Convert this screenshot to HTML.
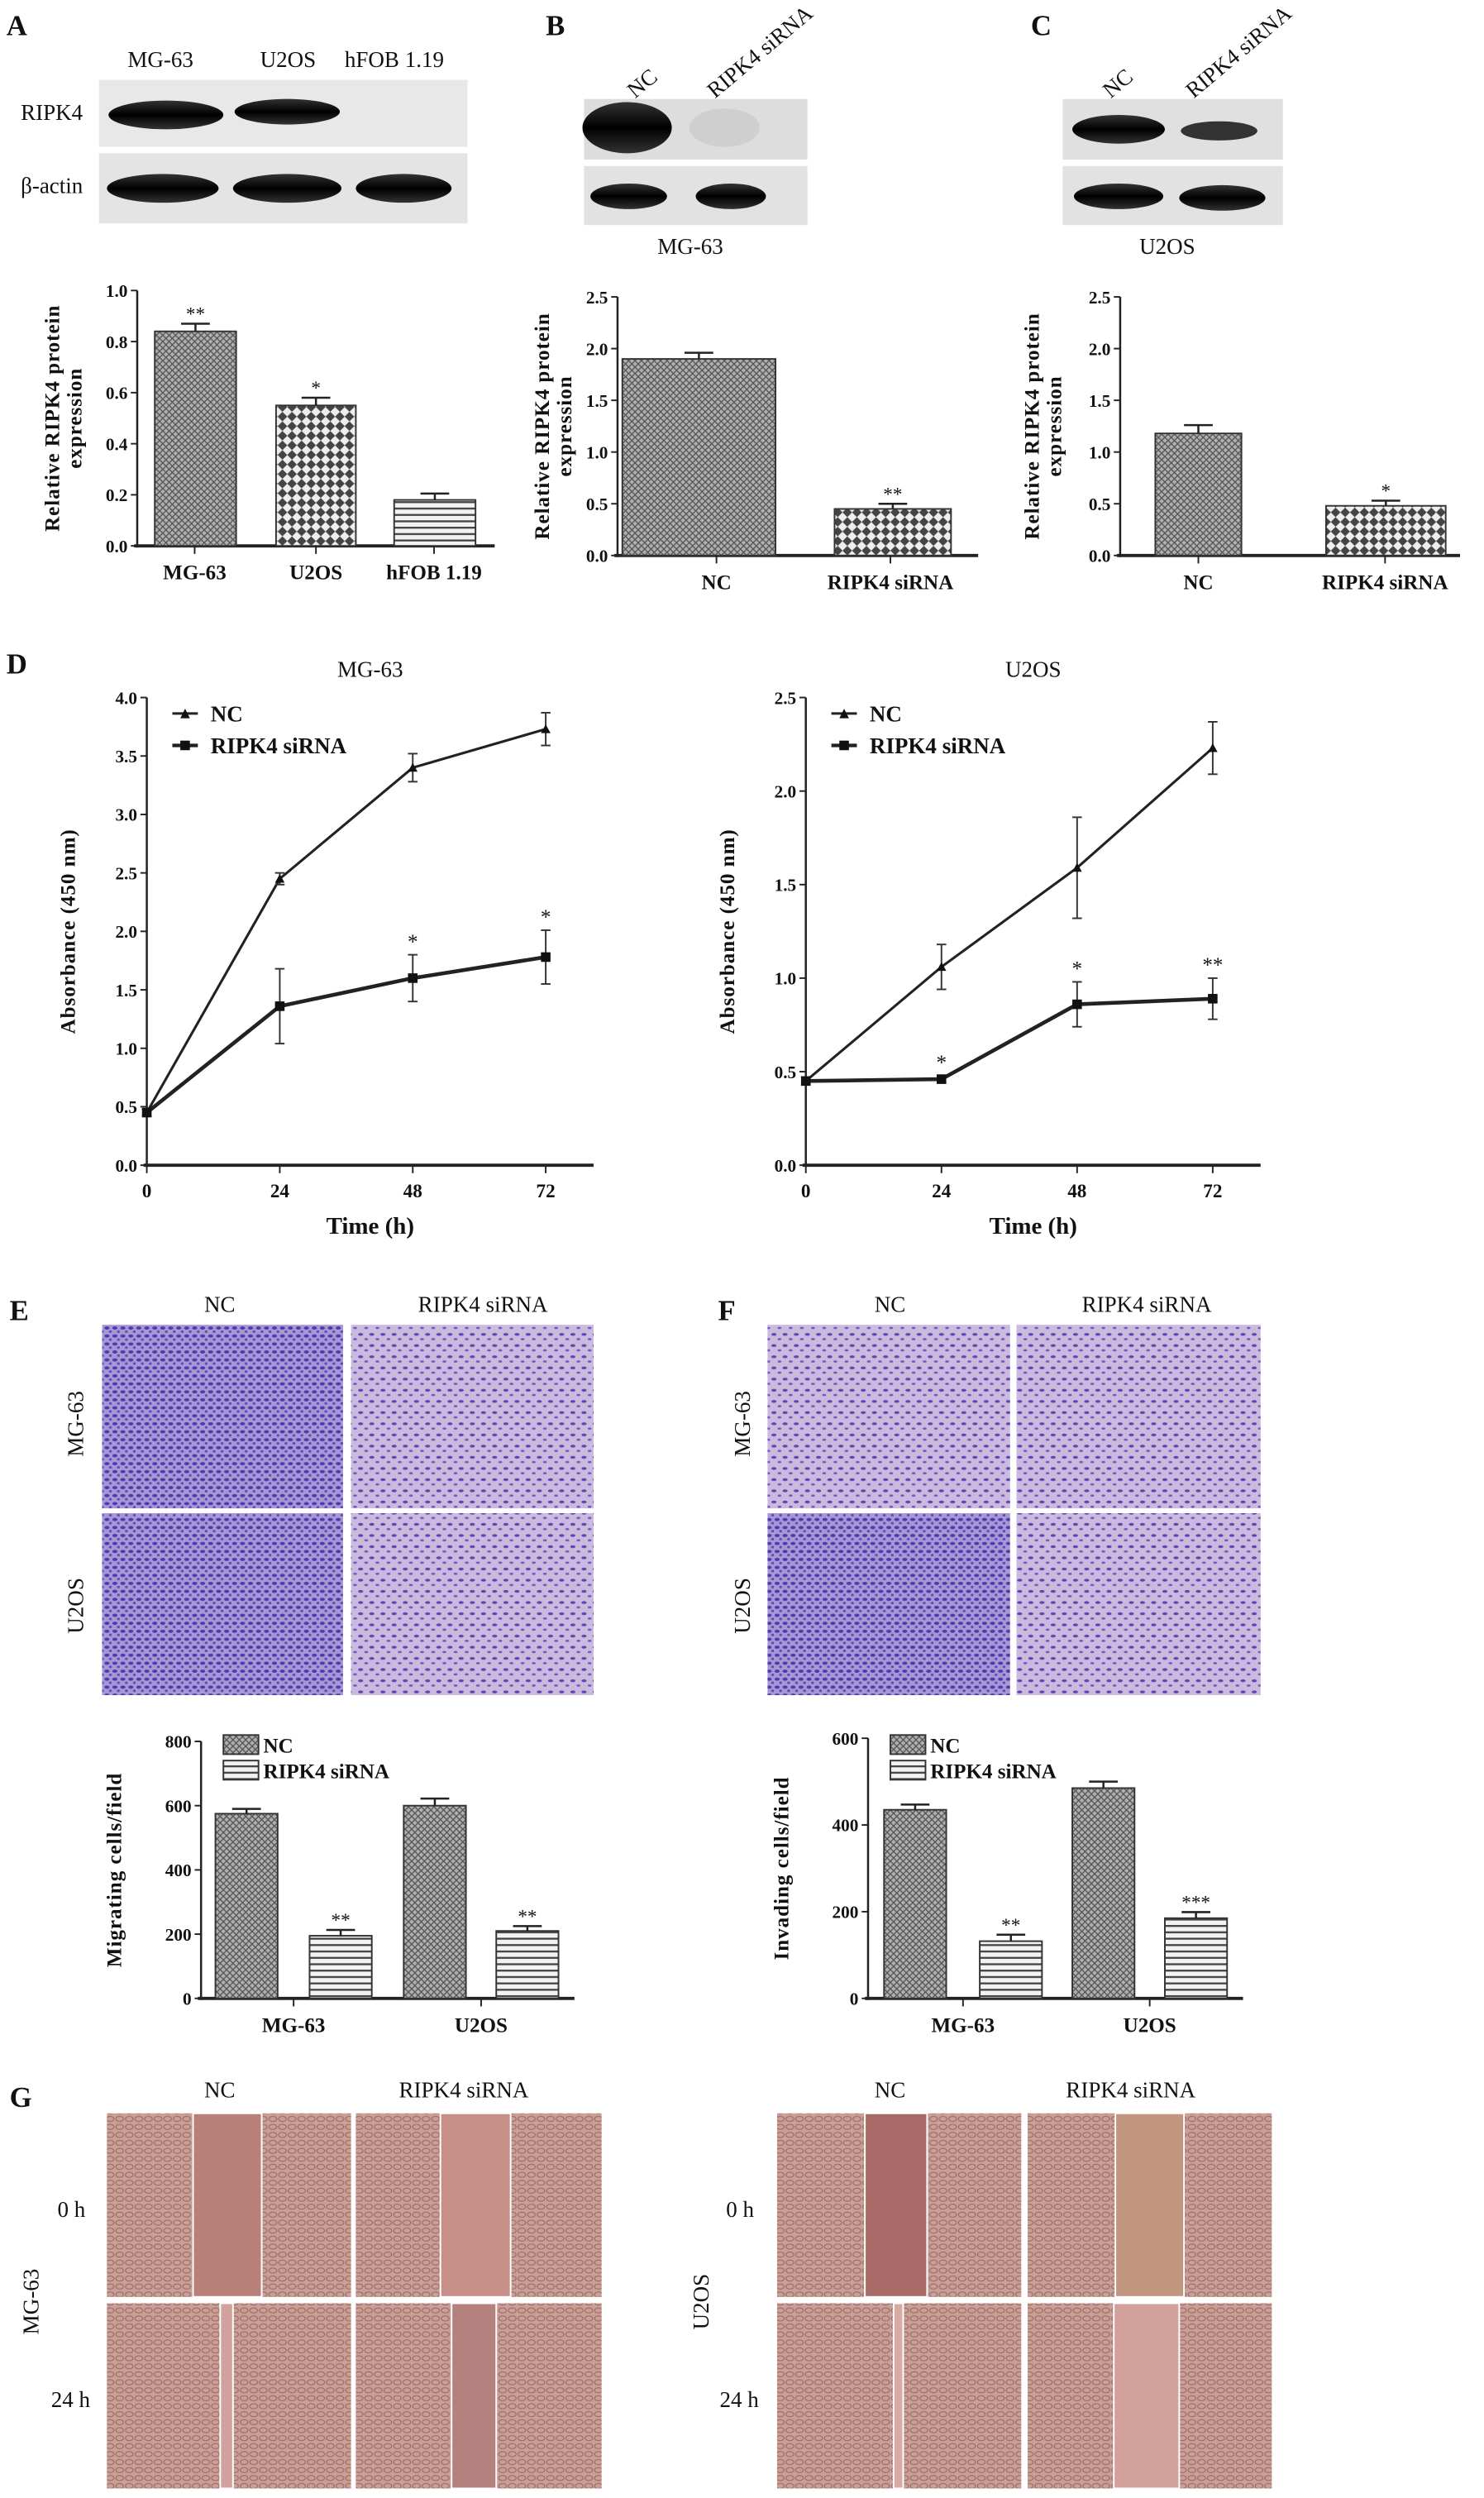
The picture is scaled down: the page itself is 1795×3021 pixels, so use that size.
<!DOCTYPE html>
<html><head><meta charset="utf-8"><style>
html,body{margin:0;padding:0;background:#fff}
svg{display:block}
text{font-family:"Liberation Serif",serif;fill:#111}
.b{font-weight:bold}
</style></head><body>
<svg id="fig" width="1795" height="3021" viewBox="0 0 930 1565" preserveAspectRatio="none" xmlns="http://www.w3.org/2000/svg">
<defs>
<pattern id="pCross" width="4" height="4" patternUnits="userSpaceOnUse"><rect width="4" height="4" fill="#b0b0b0"/><path d="M0 4L4 0M0 0L4 4" stroke="#555" stroke-width="0.7"/></pattern>
<pattern id="pCheck" width="6" height="6" patternUnits="userSpaceOnUse"><rect width="6" height="6" fill="#eee"/><path d="M0 3L3 0L6 3L3 6Z" fill="#444"/></pattern>
<pattern id="pHoriz" width="4" height="4" patternUnits="userSpaceOnUse"><rect width="4" height="4" fill="#f2f2f2"/><rect y="2" width="4" height="1.2" fill="#444"/></pattern>
<linearGradient id="gBand" x1="0" y1="0" x2="0" y2="1"><stop offset="0" stop-color="#333"/><stop offset="0.5" stop-color="#000"/><stop offset="1" stop-color="#333"/></linearGradient>
<pattern id="pCells" width="7" height="7" patternUnits="userSpaceOnUse"><rect width="7" height="7" fill="#cbbadd"/><ellipse cx="2" cy="3" rx="1.6" ry="0.9" fill="#5a46b8"/><ellipse cx="5.5" cy="6" rx="1.2" ry="0.7" fill="#6a58c4"/></pattern>
<pattern id="pCellsD" width="5" height="5" patternUnits="userSpaceOnUse"><rect width="5" height="5" fill="#a598d4"/><ellipse cx="2" cy="2" rx="1.6" ry="1" fill="#4e3aae"/><ellipse cx="4.3" cy="4.3" rx="1" ry="0.8" fill="#5c48ba"/></pattern>
<pattern id="pSheet" width="6" height="5" patternUnits="userSpaceOnUse"><rect width="6" height="5" fill="#c99f96"/><ellipse cx="3" cy="2.5" rx="2.4" ry="1.6" fill="none" stroke="#9a6c68" stroke-width="0.6"/></pattern>
</defs>

<text x="4" y="22" font-size="18" class="b">A</text>
<text x="342" y="22" font-size="18" class="b">B</text>
<text x="646" y="22" font-size="18" class="b">C</text>
<text x="4" y="422" font-size="18" class="b">D</text>
<text x="6" y="827" font-size="18" class="b">E</text>
<text x="450" y="827" font-size="18" class="b">F</text>
<text x="6" y="1320" font-size="18" class="b">G</text>

<g>
<text x="80" y="42" font-size="14">MG-63</text><text x="163" y="42" font-size="14">U2OS</text><text x="216" y="42" font-size="14">hFOB 1.19</text>
<text x="13" y="75" font-size="14">RIPK4</text><text x="13" y="121" font-size="14">β-actin</text>
<rect x="62" y="50" width="231" height="42" fill="#e8e8e8"/><rect x="62" y="96" width="231" height="44" fill="#e4e4e4"/>
<ellipse cx="104" cy="72" rx="36" ry="9" fill="url(#gBand)"/><ellipse cx="180" cy="70" rx="33" ry="8" fill="url(#gBand)"/>
<ellipse cx="102" cy="118" rx="35" ry="9" fill="url(#gBand)"/><ellipse cx="180" cy="118" rx="34" ry="9" fill="url(#gBand)"/><ellipse cx="253" cy="118" rx="30" ry="9" fill="url(#gBand)"/>
</g>
<g>
<text transform="translate(398,62) rotate(-40)" font-size="14">NC</text><text transform="translate(448,62) rotate(-40)" font-size="14">RIPK4 siRNA</text>
<rect x="366" y="62" width="140" height="38" fill="#ddd"/><rect x="366" y="104" width="140" height="37" fill="#e2e2e2"/>
<ellipse cx="393" cy="80" rx="28" ry="16" fill="url(#gBand)"/><ellipse cx="454" cy="80" rx="22" ry="12" fill="#cfcfcf"/>
<ellipse cx="394" cy="123" rx="24" ry="8" fill="url(#gBand)"/><ellipse cx="458" cy="123" rx="22" ry="8" fill="url(#gBand)"/>
<text x="412" y="159" font-size="14">MG-63</text>
</g>
<g>
<text transform="translate(696,62) rotate(-40)" font-size="14">NC</text><text transform="translate(748,62) rotate(-40)" font-size="14">RIPK4 siRNA</text>
<rect x="666" y="62" width="138" height="38" fill="#e0e0e0"/><rect x="666" y="104" width="138" height="37" fill="#e2e2e2"/>
<ellipse cx="701" cy="81" rx="29" ry="9" fill="url(#gBand)"/><ellipse cx="764" cy="82" rx="24" ry="6" fill="#333"/>
<ellipse cx="701" cy="123" rx="28" ry="8" fill="url(#gBand)"/><ellipse cx="766" cy="124" rx="27" ry="8" fill="url(#gBand)"/>
<text x="714" y="159" font-size="14">U2OS</text>
</g>

<g id="charts"></g>

<g>
<text x="128" y="822" font-size="14">NC</text><text x="262" y="822" font-size="14">RIPK4 siRNA</text>
<text x="548" y="822" font-size="14">NC</text><text x="678" y="822" font-size="14">RIPK4 siRNA</text>
<text transform="translate(52,892) rotate(-90)" font-size="14" text-anchor="middle">MG-63</text>
<text transform="translate(52,1006) rotate(-90)" font-size="14" text-anchor="middle">U2OS</text>
<text transform="translate(470,892) rotate(-90)" font-size="14" text-anchor="middle">MG-63</text>
<text transform="translate(470,1006) rotate(-90)" font-size="14" text-anchor="middle">U2OS</text>
<rect x="64" y="830" width="151" height="115" fill="url(#pCellsD)"/>
<rect x="220" y="830" width="152" height="115" fill="url(#pCells)"/>
<rect x="64" y="948" width="151" height="114" fill="url(#pCellsD)"/>
<rect x="220" y="948" width="152" height="114" fill="url(#pCells)"/>
<rect x="481" y="830" width="152" height="115" fill="url(#pCells)"/>
<rect x="637" y="830" width="153" height="115" fill="url(#pCells)"/>
<rect x="481" y="948" width="152" height="114" fill="url(#pCellsD)"/>
<rect x="637" y="948" width="153" height="114" fill="url(#pCells)"/>
</g>

<g>
<text x="128" y="1314" font-size="14">NC</text><text x="250" y="1314" font-size="14">RIPK4 siRNA</text>
<text x="548" y="1314" font-size="14">NC</text><text x="668" y="1314" font-size="14">RIPK4 siRNA</text>
<text x="36" y="1389" font-size="14">0 h</text><text x="32" y="1508" font-size="14">24 h</text>
<text x="455" y="1389" font-size="14">0 h</text><text x="451" y="1508" font-size="14">24 h</text>
<text transform="translate(24,1442) rotate(-90)" font-size="14" text-anchor="middle">MG-63</text>
<text transform="translate(444,1442) rotate(-90)" font-size="14" text-anchor="middle">U2OS</text>
<rect x="67" y="1324" width="153" height="115" fill="url(#pSheet)"/><rect x="121" y="1324" width="43" height="115" fill="#b98079" stroke="#fff"/>
<rect x="223" y="1324" width="154" height="115" fill="url(#pSheet)"/><rect x="276" y="1324" width="44" height="115" fill="#c88f88" stroke="#fff"/>
<rect x="67" y="1443" width="153" height="116" fill="url(#pSheet)"/><rect x="138" y="1443" width="8" height="116" fill="#d2a29c" stroke="#fff"/>
<rect x="223" y="1443" width="154" height="116" fill="url(#pSheet)"/><rect x="283" y="1443" width="28" height="116" fill="#b5817f" stroke="#fff"/>
<rect x="487" y="1324" width="153" height="115" fill="url(#pSheet)"/><rect x="542" y="1324" width="39" height="115" fill="#a86a66" stroke="#fff"/>
<rect x="644" y="1324" width="153" height="115" fill="url(#pSheet)"/><rect x="699" y="1324" width="43" height="115" fill="#c2957f" stroke="#fff"/>
<rect x="487" y="1443" width="153" height="116" fill="url(#pSheet)"/><rect x="560" y="1443" width="6" height="116" fill="#d8aaa4" stroke="#fff"/>
<rect x="644" y="1443" width="153" height="116" fill="url(#pSheet)"/><rect x="698" y="1443" width="41" height="116" fill="#d3a19c" stroke="#fff"/>
</g>
</svg>
<script>
const catsA = ["MG-63","U2OS","hFOB 1.19"];
const valsA = [0.84,0.55,0.18];
const errA = [0.03,0.03,0.025];
const sigA = ["**","*",""];
const ticksA = ["0.0","0.2","0.4","0.6","0.8","1.0"];
const catsB = ["NC","RIPK4 siRNA"];
const valsB = [1.9,0.45];
const errB = [0.06,0.05];
const sigB = ["","**"];
const valsC = [1.18,0.48];
const errC = [0.08,0.05];
const sigC = ["","*"];
const ticksBC = ["0.0","0.5","1.0","1.5","2.0","2.5"];
const timeCats = [0,24,48,72];
const mgNC = [0.45,2.45,3.4,3.73];
const mgNCerr = [0.03,0.05,0.12,0.14];
const mgSi = [0.45,1.36,1.6,1.78];
const mgSiErr = [0.03,0.32,0.2,0.23];
const mgSig = ["","","*","*"];
const uNC = [0.45,1.06,1.59,2.23];
const uNCerr = [0.02,0.12,0.27,0.14];
const uSi = [0.45,0.46,0.86,0.89];
const uSiErr = [0.02,0.02,0.12,0.11];
const uSig = ["","*","*","**"];
const ticksMG = ["0.0","0.5","1.0","1.5","2.0","2.5","3.0","3.5","4.0"];
const ticksU = ["0.0","0.5","1.0","1.5","2.0","2.5"];
const groupsEF = ["MG-63","U2OS"];
const migNC = [575,600];
const migNCerr = [15,22];
const migSi = [195,210];
const migSiErr = [18,15];
const migSig = ["**","**"];
const invNC = [435,485];
const invNCerr = [12,15];
const invSi = [132,185];
const invSiErr = [15,14];
const invSig = ["**","***"];
const ticksMig = ["0","200","400","600","800"];
const ticksInv = ["0","200","400","600"];

const NS="http://www.w3.org/2000/svg";
const root=document.getElementById('charts');
function el(tag,attrs,parent,txt){const e=document.createElementNS(NS,tag);for(const k in attrs)e.setAttribute(k,attrs[k]);if(txt!==undefined)e.textContent=txt;(parent||root).appendChild(e);return e;}
function scale(d0,d1,r0,r1){return v=>r0+(v-d0)*(r1-r0)/(d1-d0);}

function axesY(g,x,y,ticks,max,xEnd){
  const ys=scale(0,max,y.bottom,y.top);
  el('line',{x1:x,y1:y.bottom+1,x2:x,y2:y.top,stroke:'#222','stroke-width':1.3},g);
  el('line',{x1:x-2,y1:y.bottom,x2:xEnd,y2:y.bottom,stroke:'#222','stroke-width':2},g);
  ticks.forEach(t=>{const yy=ys(parseFloat(t));
    el('line',{x1:x-4,y1:yy,x2:x,y2:yy,stroke:'#222'},g);
    const tx=el('text',{x:x-6,y:yy+4,'font-size':11,'text-anchor':'end',class:'b'},g,t);
    
    
  });
  return ys;
}
function ytitle(g,x,yc,lines){lines.forEach((l,i)=>el('text',{transform:`translate(${x+i*14},${yc}) rotate(-90)`,'font-size':13,'text-anchor':'middle',class:'b','letter-spacing':'0.5'},g,l));}

function barChart(name,opt){
  const g=el('g',{});
  
  
  const ys=axesY(g,opt.x,opt.y,opt.ticks,opt.max,opt.xEnd);
  opt.bars.forEach((b,i)=>{
    const yv=ys(b.v), ye=ys(b.v+b.e);
    const r=el('rect',{x:b.x0,y:yv,width:b.x1-b.x0,height:opt.y.bottom-yv,fill:`url(#${b.p})`,stroke:'#333','stroke-width':1},g);
    
    
    const cx=(b.x0+b.x1)/2;
    el('line',{x1:cx,y1:yv,x2:cx,y2:ye,stroke:'#222','stroke-width':1.3},g);
    el('line',{x1:cx-9,y1:ye,x2:cx+9,y2:ye,stroke:'#222','stroke-width':1.3},g);
    if(b.s){const s=el('text',{x:cx,y:ye-2,'font-size':12,'text-anchor':'middle',fill:'#666'},g,b.s);
      
      }
  });
  opt.labels.forEach(l=>{
    el('line',{x1:l.x,y1:opt.y.bottom,x2:l.x,y2:opt.y.bottom+5,stroke:'#222'},g);
    const t=el('text',{x:l.x,y:opt.y.bottom+21,'font-size':13,'text-anchor':'middle',class:'b'},g,l.t);
    
    
  });
  ytitle(g,opt.tx,(opt.y.top+opt.y.bottom)/2,opt.title);
  return g;
}
barChart('bar-chart-a',{x:86,y:{top:182,bottom:342},max:1.0,ticks:ticksA,xEnd:310,tx:37,title:['Relative RIPK4 protein','expression'],
 bars:valsA.map((v,i)=>({v,e:errA[i],s:sigA[i],x0:[97,173,247][i],x1:[148,223,298][i],p:['pCross','pCheck','pHoriz'][i]})),
 labels:catsA.map((t,i)=>({t,x:[122,198,272][i]}))});
barChart('bar-chart-b',{x:387,y:{top:186,bottom:348},max:2.5,ticks:ticksBC,xEnd:613,tx:344,title:['Relative RIPK4 protein','expression'],
 bars:valsB.map((v,i)=>({v,e:errB[i],s:sigB[i],x0:[390,523][i],x1:[486,596][i],p:['pCross','pCheck'][i]})),
 labels:catsB.map((t,i)=>({t,x:[449,558][i]}))});
barChart('bar-chart-c',{x:702,y:{top:186,bottom:348},max:2.5,ticks:ticksBC,xEnd:915,tx:651,title:['Relative RIPK4 protein','expression'],
 bars:valsC.map((v,i)=>({v,e:errC[i],s:sigC[i],x0:[724,831][i],x1:[778,906][i],p:['pCross','pCheck'][i]})),
 labels:catsB.map((t,i)=>({t,x:[751,868][i]}))});

function lineChart(name,opt){
  const g=el('g',{});
  
  
  const ys=axesY(g,opt.x,opt.y,opt.ticks,opt.max,opt.xEnd);
  const xs=scale(0,72,opt.x,opt.x72);
  timeCats.forEach(t=>{el('line',{x1:xs(t),y1:opt.y.bottom,x2:xs(t),y2:opt.y.bottom+5,stroke:'#222'},g);
    const l=el('text',{x:xs(t),y:opt.y.bottom+20,'font-size':12,'text-anchor':'middle',class:'b'},g,String(t));
    
    });
  el('text',{x:(opt.x+opt.xEnd)/2,y:opt.y.bottom+43,'font-size':15,'text-anchor':'middle',class:'b'},g,'Time (h)');
  el('text',{x:(opt.x+opt.xEnd)/2,y:424,'font-size':14,'text-anchor':'middle'},g,opt.title);
  ytitle(g,opt.x-45,(opt.y.top+opt.y.bottom)/2,['Absorbance  (450 nm)']);
  [[opt.nc,opt.ncErr,'tri'],[opt.si,opt.siErr,'sq']].forEach(([vals,errs,m],si)=>{
    const pts=vals.map((v,i)=>xs(timeCats[i])+','+ys(v)).join(' ');
    const pl=el('polyline',{points:pts,fill:'none',stroke:'#222','stroke-width':si?2.4:1.6},g);
    
    
    vals.forEach((v,i)=>{const cx=xs(timeCats[i]);const e=errs[i];
      el('line',{x1:cx,y1:ys(v-e),x2:cx,y2:ys(v+e),stroke:'#333'},g);
      el('line',{x1:cx-3,y1:ys(v-e),x2:cx+3,y2:ys(v-e),stroke:'#333'},g);
      el('line',{x1:cx-3,y1:ys(v+e),x2:cx+3,y2:ys(v+e),stroke:'#333'},g);
      const mk=m==='sq'?el('rect',{x:cx-3,y:ys(v)-3,width:6,height:6,fill:'#111'},g):el('path',{d:`M${cx-3} ${ys(v)+2.5}L${cx+3} ${ys(v)+2.5}L${cx} ${ys(v)-3}Z`,fill:'#111'},g);
      
      
      if(si&&opt.sig[i]){const s=el('text',{x:cx,y:ys(v+e)-4,'font-size':13,'text-anchor':'middle',fill:'#777'},g,opt.sig[i]);
        
        }
    });
  });
  const lx=opt.x+16;
  const lg=el('g',{},g);
  
  
  el('line',{x1:lx,y1:447,x2:lx+16,y2:447,stroke:'#222','stroke-width':1.5},lg);
  el('path',{d:`M${lx+5} 450L${lx+11} 450L${lx+8} 444Z`,fill:'#111'},lg);
  el('text',{x:lx+24,y:452,'font-size':14,class:'b'},lg,'NC');
  el('line',{x1:lx,y1:467,x2:lx+16,y2:467,stroke:'#222','stroke-width':2.2},lg);
  el('rect',{x:lx+5,y:464,width:6,height:6,fill:'#111'},lg);
  el('text',{x:lx+24,y:472,'font-size':14,class:'b'},lg,'RIPK4 siRNA');
}
lineChart('line-chart-mg63',{x:92,x72:342,xEnd:372,y:{top:437,bottom:730},max:4.0,ticks:ticksMG,title:'MG-63',nc:mgNC,ncErr:mgNCerr,si:mgSi,siErr:mgSiErr,sig:mgSig});
lineChart('line-chart-u2os',{x:505,x72:760,xEnd:790,y:{top:437,bottom:730},max:2.5,ticks:ticksU,title:'U2OS',nc:uNC,ncErr:uNCerr,si:uSi,siErr:uSiErr,sig:uSig});

function grouped(name,opt){
  const bars=[];
  groupsEF.forEach((gname,i)=>{
    bars.push({v:opt.nc[i],e:opt.ncErr[i],s:'',x0:opt.bx[i*2],x1:opt.bx[i*2]+39,p:'pCross'});
    bars.push({v:opt.si[i],e:opt.siErr[i],s:opt.sig[i],x0:opt.bx[i*2+1],x1:opt.bx[i*2+1]+39,p:'pHoriz'});
  });
  const g=barChart(name,{x:opt.x,y:{top:opt.top,bottom:1252},max:opt.max,ticks:opt.ticks,xEnd:opt.xEnd,tx:opt.x-50,title:[opt.title],bars,
    labels:groupsEF.map((t,i)=>({t,x:(opt.bx[i*2]+opt.bx[i*2+1]+39)/2}))});
  const lx=opt.x+14;
  el('rect',{x:lx,y:1087,width:22,height:12,fill:'url(#pCross)',stroke:'#333'},g);
  el('text',{x:lx+25,y:1098,'font-size':13,class:'b'},g,'NC');
  el('rect',{x:lx,y:1103,width:22,height:12,fill:'url(#pHoriz)',stroke:'#333'},g);
  el('text',{x:lx+25,y:1114,'font-size':13,class:'b'},g,'RIPK4 siRNA');
}
grouped('bar-chart-migration',{x:126,top:1091,max:800,ticks:ticksMig,xEnd:360,bx:[135,194,253,311],nc:migNC,ncErr:migNCerr,si:migSi,siErr:migSiErr,sig:migSig,title:'Migrating cells/field'});
grouped('bar-chart-invasion',{x:544,top:1089,max:600,ticks:ticksInv,xEnd:779,bx:[554,614,672,730],nc:invNC,ncErr:invNCerr,si:invSi,siErr:invSiErr,sig:invSig,title:'Invading cells/field'});
</script>
</body></html>
